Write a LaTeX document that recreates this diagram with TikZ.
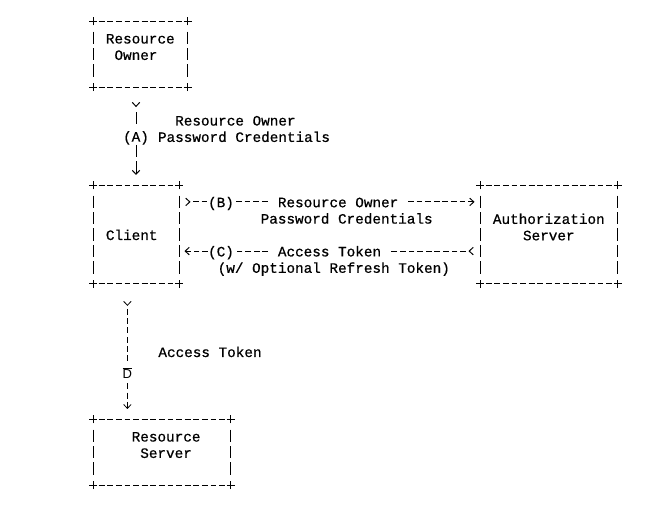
\documentclass[tikz,border=0pt]{standalone}
\usepackage{fontspec}
\usepackage{tikz}
\usetikzlibrary{arrows.meta, decorations.markings, positioning}
\newfontfamily\asciifont{Liberation Mono}[FakeBold=0.6]
\newfontfamily\labelfont{Liberation Sans}
\newcommand{\asciisize}{\fontsize{14.33pt}{16.4pt}\selectfont}

\newcommand{\asciiframe}[1]{
  \draw [hdash] ([xshift=5.7pt]#1.north west) -- ([xshift=-5.7pt]#1.north east);
  \draw [hdash] ([xshift=5.7pt]#1.south west) -- ([xshift=-5.7pt]#1.south east);
  \draw [vdash] ([yshift=-10.2pt]#1.north west) -- ([yshift=10.2pt]#1.south west);
  \draw [vdash] ([yshift=-10.2pt]#1.north east) -- ([yshift=10.2pt]#1.south east);
  \foreach \corner in {north west, north east, south west, south east}
    \draw ([xshift=-4pt]#1.\corner) -- ([xshift=4pt]#1.\corner)
          ([yshift=-4pt]#1.\corner) -- ([yshift=4pt]#1.\corner);
}

\begin{document}
\begin{tikzpicture}[x=1pt, y=-1pt, line width=1pt, >={Straight Barb[length=4pt, width=7.5pt]},
    every node/.style={font=\asciifont\asciisize, inner sep=0pt, text height=13.5pt, text depth=2.9pt},
    box/.style={outer sep=0pt, align=center},
    box3/.style={text height=29.9pt, text depth=18.7pt},
    hdash/.style={dash pattern=on 5.8pt off 2.8pt},
    vdash/.style={dash pattern=on 12.4pt off 4pt},
    tail/.style={postaction={decorate, decoration={markings, mark=at position #1 with {\arrow{>}}}}},
    flow/.style={->, hdash, shorten <=14pt, shorten >=5.5pt, tail=11.5pt},
    down/.style={->, vdash, shorten <=25pt, shorten >=10.5pt, tail=20pt},
    token/.style={->, line width=0.8pt, dash pattern=on 6pt off 3.3pt, shorten <=25pt, shorten >=10.5pt, tail=22pt},
    chip/.style={fill=white}]
  \useasboundingbox (0,0) rectangle (665,510);

  \node [box, box3, minimum width=94.6pt, minimum height=65.6pt] (owner) at (140.3, 54.3) {Resource\\Owner\hphantom{x}};
  \node [box, minimum width=86pt, minimum height=98.4pt] (client) at (136, 234.7) {Client\hphantom{x}};
  \node [box, box3, minimum width=137.6pt, minimum height=98.4pt] (auth) at (548.8, 234.7) {Authorization\\Server};
  \node [box, box3, minimum width=137.6pt, minimum height=65.6pt] (rserver) at (161.8, 452.3) {\hphantom{x}Resource\\\hphantom{x}Server};

  \asciiframe{owner}
  \asciiframe{client}
  \asciiframe{auth}
  \asciiframe{rserver}

  \path (client.north |- owner.south) edge [down] node [chip] {(A)}
        node [anchor=west, xshift=21.5pt, yshift=7.9pt, align=left, text height=29.9pt] {\hphantom{xx}Resource Owner\\Password Credentials} (client.north);

  \path ([yshift=32.8pt]client.east) edge [flow] node [pos=0.1395, chip] {(B)}
        node [pos=0.5286, chip, inner xsep=8pt] {Resource Owner}
        node [pos=0.557, yshift=-16.4pt] {Password Credentials} ([yshift=32.8pt]auth.west);
  \path ([yshift=-16.4pt]auth.west) edge [flow] node [pos=0.8605, chip] {(C)}
        node [pos=0.5, chip, inner xsep=8pt] {Access Token}
        node [pos=0.4857, yshift=-16.4pt] {(w/ Optional Refresh Token)} ([yshift=-16.4pt]client.east);

  \path ([xshift=-8.6pt]client.south) edge [token] node [pos=0.657, chip, inner sep=1pt, font=\labelfont\fontsize{13pt}{15pt}\selectfont] {$\overline{\mbox{D}}$}
        node [pos=0.5, anchor=west, xshift=30.6pt] {Access Token} ([xshift=-8.6pt]client.south |- rserver.north);
\end{tikzpicture}
\end{document}
